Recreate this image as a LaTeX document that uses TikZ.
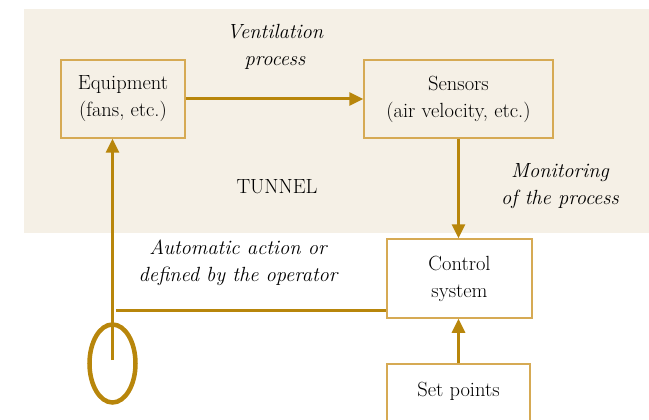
\documentclass[tikz,border=0pt]{standalone}
\usepackage{fontspec}
\usetikzlibrary{arrows.meta,shapes.geometric}
\definecolor{gold}{RGB}{184,134,11}
\definecolor{boxline}{RGB}{214,170,84}
\definecolor{tan}{RGB}{245,240,230}
\tikzset{
  box/.style={draw=boxline, line width=1.5pt, align=center, inner sep=0pt,
    font=\fontsize{20.5}{27}\selectfont},
  conn/.style={draw=gold, line width=3pt},
  arr/.style={conn, -{Triangle[length=14pt,width=13pt]}},
  lab/.style={align=center, font=\fontsize{20.5}{27}\selectfont\itshape, inner sep=0pt},
}
\begin{document}
\begin{tikzpicture}[x=1pt,y=-1pt]
\useasboundingbox (0,0) rectangle (649,420);
\clip (0,0) rectangle (649,420);
\fill[tan] (24,9) rectangle (649,233);
\node[box, fill=tan, minimum width=124pt, minimum height=78pt] (equip) at (123,99) {Equipment\\(fans, etc.)};
\node[box, fill=tan, minimum width=189pt, minimum height=78pt] (sensors) at (458.5,99) {Sensors\\(air velocity, etc.)};
\node[box, fill=white, minimum width=145pt, minimum height=79pt] (control) at (459.5,278.5) {Control\\system};
\node[box, fill=white, minimum width=143pt, minimum height=78pt, text depth=28pt] (setp) at (458.5,403) {Set points};
\node[lab] (vent) at (275,46.5) {Ventilation\\process};
\node[lab] (mon) at (560,186.5) {Monitoring\\of the process};
\node[lab] (auto) at (238,262.5) {Automatic action or\\defined by the operator};
\node[font=\fontsize{20.5}{27}\selectfont, inner sep=0pt] (tunnel) at (277,187) {TUNNEL};
\node[draw=gold, line width=4.5pt, ellipse, minimum width=46pt, minimum height=78pt, inner sep=0pt] (ell) at (112.5,363.5) {};
\coordinate (vb) at (112.5,360);
\coordinate (hl) at (116,310);
\draw[arr] (equip.east) -- (sensors.west);
\draw[arr] (sensors.south) -- (sensors.south |- control.north);
\draw[arr] (setp.north) -- (setp.north |- control.south);
\draw[arr] (vb) -- (vb |- equip.south);
\draw[conn] (hl) -- (hl -| control.west);
\end{tikzpicture}
\end{document}
